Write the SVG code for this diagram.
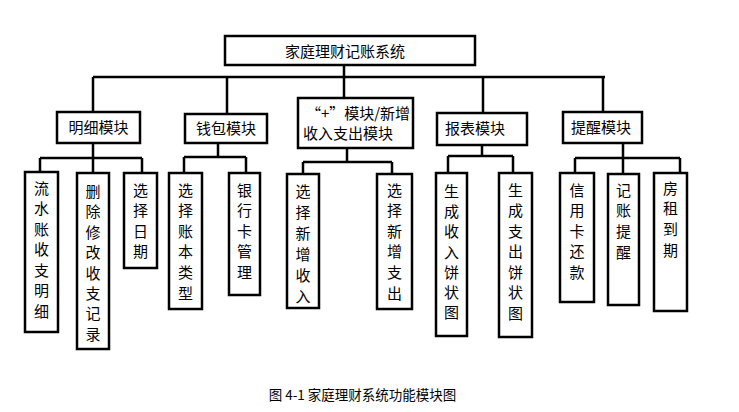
<svg xmlns="http://www.w3.org/2000/svg" width="739" height="412" viewBox="0 0 739 412">
<style>
.box{fill:#fff;stroke:#000;stroke-width:2.5}
.ln{stroke:#000;stroke-width:2.5;fill:none}
.t{font-family:"Noto Sans CJK SC","Liberation Sans",sans-serif;font-size:15px;fill:#000}
.lf{font-family:"Noto Sans CJK SC","Liberation Sans",sans-serif;font-size:15px;fill:#000;text-anchor:middle}
.cap{font-family:"Noto Sans CJK SC","Liberation Sans",sans-serif;font-size:13.5px;fill:#000;text-anchor:middle}
</style>
<rect width="739" height="412" fill="#fff"/>
<g id="connectors">
<path class="ln" d="M93 77H605M344 65V98M93 77V112M227 77V114M483 77V113M603 77V112"/>
<path class="ln" d="M93 143V173M40 158H142M40 158V172M142 158V173"/>
<path class="ln" d="M218 143V157M184 157H246M184 157V173M246 157V173"/>
<path class="ln" d="M347 148V162M303 162H392M303 162V174M392 162V174"/>
<path class="ln" d="M482 145V156M448 156H513M448 156V173M513 156V173"/>
<path class="ln" d="M623 143V174M575 158H680M575 158V173M680 158V173"/>
</g>
<g id="root"><rect class="box" x="225" y="36" width="250" height="29"/><text class="t" x="345" y="56.5" text-anchor="middle">家庭理财记账系统</text></g>
<g id="m1"><rect class="box" x="57" y="112" width="83" height="31"/><text class="t" x="98.5" y="133" text-anchor="middle">明细模块</text></g>
<g id="m2"><rect class="box" x="185" y="114" width="82" height="29"/><text class="t" x="226" y="134" text-anchor="middle">钱包模块</text></g>
<g id="m3"><rect class="box" x="298" y="98" width="115" height="50"/><text class="t" x="358" y="118.5" text-anchor="middle">“+”模块/新增</text><text class="t" x="348" y="138.5" text-anchor="middle">收入支出模块</text></g>
<g id="m4"><rect class="box" x="437" y="113" width="90" height="32"/><text class="t" x="475" y="134" text-anchor="middle">报表模块</text></g>
<g id="m5"><rect class="box" x="563" y="112" width="79" height="31"/><text class="t" x="601" y="133" text-anchor="middle">提醒模块</text></g>
<g id="l1"><rect class="box" x="25" y="172" width="33" height="160"/><text class="lf" x="41.5" y="193.5"><tspan x="41.5">流</tspan><tspan x="41.5" dy="20.5">水</tspan><tspan x="41.5" dy="20.5">账</tspan><tspan x="41.5" dy="20.5">收</tspan><tspan x="41.5" dy="20.5">支</tspan><tspan x="41.5" dy="20.5">明</tspan><tspan x="41.5" dy="20.5">细</tspan></text></g>
<g id="l2"><rect class="box" x="77" y="173" width="32" height="176"/><text class="lf" x="93" y="197"><tspan x="93">删</tspan><tspan x="93" dy="20.4">除</tspan><tspan x="93" dy="20.4">修</tspan><tspan x="93" dy="20.4">改</tspan><tspan x="93" dy="20.4">收</tspan><tspan x="93" dy="20.4">支</tspan><tspan x="93" dy="20.4">记</tspan><tspan x="93" dy="20.4">录</tspan></text></g>
<g id="l3"><rect class="box" x="124" y="173" width="33" height="95"/><text class="lf" x="140.5" y="195.5"><tspan x="140.5">选</tspan><tspan x="140.5" dy="20.5">择</tspan><tspan x="140.5" dy="20.5">日</tspan><tspan x="140.5" dy="20.5">期</tspan></text></g>
<g id="l4"><rect class="box" x="169" y="173" width="33" height="136"/><text class="lf" x="185.5" y="195.5"><tspan x="185.5">选</tspan><tspan x="185.5" dy="20.6">择</tspan><tspan x="185.5" dy="20.6">账</tspan><tspan x="185.5" dy="20.6">本</tspan><tspan x="185.5" dy="20.6">类</tspan><tspan x="185.5" dy="20.6">型</tspan></text></g>
<g id="l5"><rect class="box" x="229" y="173" width="31" height="122"/><text class="lf" x="244.5" y="195.5"><tspan x="244.5">银</tspan><tspan x="244.5" dy="20.5">行</tspan><tspan x="244.5" dy="20.5">卡</tspan><tspan x="244.5" dy="20.5">管</tspan><tspan x="244.5" dy="20.5">理</tspan></text></g>
<g id="l6"><rect class="box" x="287" y="174" width="32" height="134"/><text class="lf" x="303" y="197"><tspan x="303">选</tspan><tspan x="303" dy="21">择</tspan><tspan x="303" dy="21">新</tspan><tspan x="303" dy="21">增</tspan><tspan x="303" dy="21">收</tspan><tspan x="303" dy="21">入</tspan></text></g>
<g id="l7"><rect class="box" x="377" y="174" width="35" height="135"/><text class="lf" x="394.5" y="195.5"><tspan x="394.5">选</tspan><tspan x="394.5" dy="20.6">择</tspan><tspan x="394.5" dy="20.6">新</tspan><tspan x="394.5" dy="20.6">增</tspan><tspan x="394.5" dy="20.6">支</tspan><tspan x="394.5" dy="20.6">出</tspan></text></g>
<g id="l8"><rect class="box" x="436" y="173" width="31" height="163"/><text class="lf" x="451.5" y="197"><tspan x="451.5">生</tspan><tspan x="451.5" dy="20.2">成</tspan><tspan x="451.5" dy="20.2">收</tspan><tspan x="451.5" dy="20.2">入</tspan><tspan x="451.5" dy="20.2">饼</tspan><tspan x="451.5" dy="20.2">状</tspan><tspan x="451.5" dy="20.2">图</tspan></text></g>
<g id="l9"><rect class="box" x="499" y="173" width="33" height="164"/><text class="lf" x="515.5" y="195.5"><tspan x="515.5">生</tspan><tspan x="515.5" dy="20.5">成</tspan><tspan x="515.5" dy="20.5">支</tspan><tspan x="515.5" dy="20.5">出</tspan><tspan x="515.5" dy="20.5">饼</tspan><tspan x="515.5" dy="20.5">状</tspan><tspan x="515.5" dy="20.5">图</tspan></text></g>
<g id="l10"><rect class="box" x="560" y="173" width="34" height="129"/><text class="lf" x="577" y="195.5"><tspan x="577">信</tspan><tspan x="577" dy="20.5">用</tspan><tspan x="577" dy="20.5">卡</tspan><tspan x="577" dy="20.5">还</tspan><tspan x="577" dy="20.5">款</tspan></text></g>
<g id="l11"><rect class="box" x="608" y="174" width="31" height="131"/><text class="lf" x="623.5" y="195.5"><tspan x="623.5">记</tspan><tspan x="623.5" dy="20.7">账</tspan><tspan x="623.5" dy="20.7">提</tspan><tspan x="623.5" dy="20.7">醒</tspan></text></g>
<g id="l12"><rect class="box" x="654" y="173" width="33" height="138"/><text class="lf" x="670.5" y="193.5"><tspan x="670.5">房</tspan><tspan x="670.5" dy="20.7">租</tspan><tspan x="670.5" dy="20.7">到</tspan><tspan x="670.5" dy="20.7">期</tspan></text></g>
<text class="cap" x="362.5" y="400">图 4-1 家庭理财系统功能模块图</text>
</svg>
